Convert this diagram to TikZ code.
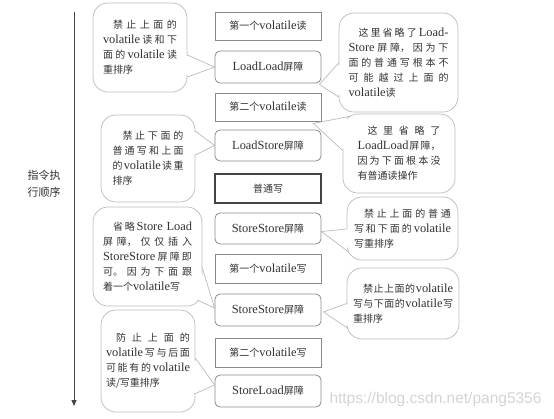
\documentclass[tikz,border=0pt]{standalone}
\usepackage{fontspec}
\setmainfont{Noto Sans CJK SC}
\newfontfamily\enf{Liberation Serif}[Scale=1.24]
\newfontfamily\wmf{Liberation Sans}
\newcommand\en[1]{\hskip0pt plus 1fil{\enf #1}\hskip0pt plus 1fil}
\newcommand\cstart{\hspace*{1em}}
\newcommand\nl{\unskip\linebreak}
\newcommand\cend{\unskip\hspace*{0pt plus 1fill}}
\XeTeXlinebreaklocale "zh"
\XeTeXlinebreakskip=0pt plus 1fil
\setlength\parindent{0pt}
\hyphenpenalty=10000
\exhyphenpenalty=10000
\usetikzlibrary{calc,arrows.meta}
\definecolor{boxline}{HTML}{8A8A8A}
\definecolor{callline}{HTML}{BBBBBB}
\definecolor{txt}{HTML}{333333}
\definecolor{strongline}{HTML}{444444}
\definecolor{wm}{HTML}{D4D4D4}
\tikzset{
  basetext/.style={font=\fontsize{10}{15}\selectfont, text=txt},
  sbox/.style={basetext, draw=boxline, line width=0.8pt, fill=white,
    minimum width=106pt, minimum height=29pt, inner sep=0pt},
  rbox/.style={sbox, rounded corners=5pt, minimum height=32pt},
  hbox/.style={sbox, draw=strongline, line width=1.1pt},
  callout/.style={basetext, draw=callline, line width=0.7pt, fill=white,
    rounded corners=15pt, inner sep=0pt, align=justify},
  ptr/.style={draw=callline, line width=0.7pt},
  axis/.style={draw=strongline, line width=0.8pt, -{Triangle[length=6pt,width=5pt]}},
}
\begin{document}
\begin{tikzpicture}[x=1pt,y=-1pt]
\useasboundingbox (0,0) rectangle (554,418);

% axis
\coordinate (axtop) at (74,12);
\coordinate (axbot) at (74,406);
\draw[axis] (axtop) -- (axbot);
\node[basetext, font=\fontsize{11}{17}\selectfont, align=center] (lbl) at (44,184) {指令执\\行顺序};

% centre column
\node[sbox, minimum height=28pt] (b1) at (268,26) {第一个\en{volatile}读};
\node[rbox] (b2) at (268,67) {\en{LoadLoad}屏障};
\node[sbox, minimum height=28pt] (b3) at (268,107) {第二个\en{volatile}读};
\node[rbox, minimum height=31pt] (b4) at (268,145.5) {\en{LoadStore}屏障};
\node[hbox] (b5) at (268,188.5) {普通写};
\node[rbox, minimum height=31pt] (b6) at (268,228.5) {\en{StoreStore}屏障};
\node[sbox] (b7) at (268,268.5) {第一个\en{volatile}写};
\node[rbox] (b8) at (268,310) {\en{StoreStore}屏障};
\node[sbox] (b9) at (268,352.5) {第二个\en{volatile}写};
\node[rbox] (b10) at (268,391) {\en{StoreLoad}屏障};

% left callouts
\node[callout, minimum width=94pt, minimum height=89pt, text width=74pt] (c1) at (140,47.5)
  {\cstart 禁止上面的\nl \en{volatile}读和下\nl 面的\en{volatile}读\nl 重排序\cend};
\node[callout, minimum width=94pt, minimum height=87pt, text width=71pt] (c2) at (148,158.5)
  {\cstart 禁止下面的\nl 普通写和上面\nl 的\en{volatile}读重\nl 排序\cend};
\node[callout, minimum width=109pt, minimum height=99pt, text width=89pt] (c3) at (147.5,256.5)
  {\cstart 省略\en{Store}\en{Load}\nl 屏障，仅仅插入\nl \en{StoreStore}屏障即\nl 可。因为下面跟\nl 着一个\en{volatile}写\cend};
\node[callout, minimum width=94pt, minimum height=102pt, text width=84pt] (c4) at (148,361)
  {\cstart 防止上面的\nl \en{volatile}写与后面\nl 可能有的\en{volatile}\nl 读/写重排序\cend};

% right callouts
\node[callout, minimum width=119pt, minimum height=99pt, text width=100pt] (r1) at (398.5,62.5)
  {\cstart 这里省略了\en{Load-}\nl \en{Store}屏障，因为下\nl 面的普通写根本不\nl 可能越过上面的\nl \en{volatile}读\cend};
\node[callout, minimum width=112pt, minimum height=79pt, text width=83pt] (r2) at (399,153.5)
  {\cstart 这里省略了\nl \en{LoadLoad}屏障，\nl 因为下面根本没\nl 有普通读操作\cend};
\node[callout, minimum width=111pt, minimum height=63pt, text width=97pt] (r3) at (402.5,228.5)
  {\cstart 禁止上面的普通\nl 写和下面的\en{volatile}\nl 写重排序\cend};
\node[callout, minimum width=112pt, minimum height=71pt, text width=100pt] (r4) at (403,303.5)
  {\cstart 禁止上面的\en{volatile}\nl 写与下面的\en{volatile}写\nl 重排序\cend};

% pointers: C1
\fill[white] ($(c1.east)+(-3,7.5)$) -- (b2.west) -- ($(c1.east)+(-3,28)$) -- cycle;
\draw[ptr] ($(c1.east)+(0,7.5)$) -- (b2.west) -- ($(c1.east)+(0,29.5)$);
% C2
\fill[white] ($(c2.east)+(-3,-27.5)$) -- (b4.west) -- ($(c2.east)+(-3,-3.5)$) -- cycle;
\draw[ptr] ($(c2.east)+(0,-27.5)$) -- (b4.west) -- ($(c2.east)+(0,-3.5)$);
% C3
\fill[white] ($(c3.east)+(-3,11.5)$) -- ($(b8.west)+(0,-2)$) -- ($(c3.east)+(-7,41.5)$) -- cycle;
\draw[ptr] ($(c3.east)+(0,11.5)$) -- ($(b8.west)+(0,-2)$) -- ($(c3.east)+(-5,43.5)$);
% C4
\fill[white] ($(c4.east)+(-3,-3)$) -- ($(b10.west)+(0,-6)$) -- ($(c4.east)+(-3,33)$) -- cycle;
\draw[ptr] ($(c4.east)+(0,-3)$) -- ($(b10.west)+(0,-6)$) -- ($(c4.east)+(-1,33)$);
% R1
\fill[white] ($(r1.west)+(3,0.5)$) -- ($(b2.south east)+(-2,1)$) -- ($(r1.west)+(3,33)$) -- cycle;
\draw[ptr] ($(r1.west)+(0,0.5)$) -- ($(b2.south east)+(-2,1)$) -- ($(r1.west)+(0,34.5)$);
% R2
\fill[white] ($(r2.north west)+(10,4.5)$) -- ($(b3.south east)+(-8,2)$) -- ($(r2.west)+(3,-3)$) -- cycle;
\draw[ptr] ($(r2.north west)+(8,2.5)$) -- ($(b3.south east)+(-8,2)$) -- ($(r2.west)+(0,-3)$);
% R3
\fill[white] ($(r3.west)+(3,0.5)$) -- ($(b6.east)+(0,3)$) -- ($(r3.west)+(5,21.5)$) -- cycle;
\draw[ptr] ($(r3.west)+(0,0.5)$) -- ($(b6.east)+(0,3)$) -- ($(r3.west)+(2,23.5)$);
% R4
\fill[white] ($(r4.west)+(3,0)$) -- ($(b8.east)+(2,2)$) -- ($(r4.west)+(4.5,23.5)$) -- cycle;
\draw[ptr] ($(r4.west)+(0,0)$) -- ($(b8.east)+(2,2)$) -- ($(r4.west)+(1.5,25)$);

% watermark
\node[font=\wmf\fontsize{15.5}{16}\selectfont, text=wm, inner sep=0pt] (wmk) at (435.5,399) {https://blog.csdn.net/pang5356};
\end{tikzpicture}
\end{document}
